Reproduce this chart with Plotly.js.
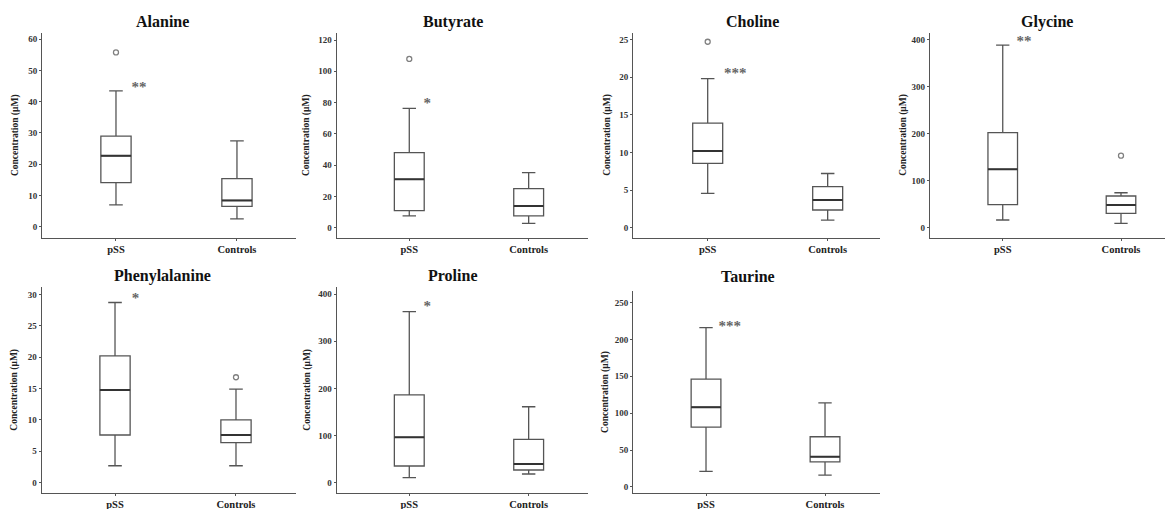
<!DOCTYPE html>
<html>
<head>
<meta charset="utf-8">
<script src="https://cdn.plot.ly/plotly-3.0.1.min.js"></script>
<style>html,body{margin:0;padding:0;background:#fff;}#chart{width:1165px;height:509px;}</style>
</head>
<body>
<div id="chart"></div>
<script>
// ---------- DATA ----------
const categories = ['pSS', 'Controls'];
const metabolites = ['Alanine', 'Butyrate', 'Choline', 'Glycine', 'Phenylalanine', 'Proline', 'Taurine'];

// pSS box statistics per metabolite
const lowPSS    = [7.0, 7.5, 4.57, 16.4, 2.7, 10.6, 21];
const q1PSS     = [14.1, 10.9, 8.55, 48.9, 7.6, 35.4, 81];
const medianPSS = [22.7, 30.9, 10.2, 124, 14.77, 96.2, 108];
const q3PSS     = [29.0, 48.0, 13.9, 202, 20.2, 186, 146];
const highPSS   = [43.5, 76.3, 19.8, 388, 28.7, 362.5, 216];

// Controls box statistics per metabolite
const lowCtrl    = [2.5, 2.8, 1.02, 9.3, 2.7, 18.4, 16];
const q1Ctrl     = [6.5, 7.5, 2.35, 30.6, 6.4, 26.9, 34];
const medianCtrl = [8.4, 13.9, 3.68, 48.2, 7.6, 39.6, 41];
const q3Ctrl     = [15.4, 25.0, 5.45, 67.3, 10.0, 92, 68];
const highCtrl   = [27.5, 35.2, 7.2, 74.3, 14.9, 161, 114];

// outliers
const outlierMetabolite = ['Alanine', 'Butyrate', 'Choline', 'Glycine', 'Phenylalanine'];
const outlierGroup      = ['pSS', 'pSS', 'pSS', 'Controls', 'Controls'];
const outlierValue      = [55.8, 107.9, 24.7, 153, 16.8];

// significance marks
const significance = ['**', '*', '***', '**', '*', '*', '***'];
const starY        = [44.3, 79.2, 20.4, 394, 29.3, 372.5, 216];
const starX        = [0.19, 0.15, 0.23, 0.18, 0.17, 0.15, 0.2];

const yTitle = 'Concentration (µM)';

// ---------- LAYOUT GEOMETRY (pixels) ----------
const W = 1165, H = 509;
const panels = [
  {x0: 42.3, x1: 296, y0: 32.7, y1: 237.5, xr: [-0.609, 1.488], yr: [-3.46, 62.1], dt: 10, tx: 162, ty: 21.7, ax: 15},
  {x0: 336.7, x1: 588, y0: 33.3, y1: 237.5, xr: [-0.608, 1.497], yr: [-6.27, 124.3], dt: 20, tx: 453, ty: 21.7, ax: 306.7},
  {x0: 633.3, x1: 880, y0: 32.7, y1: 237.5, xr: [-0.62, 1.436], yr: [-1.30, 25.9], dt: 5, tx: 752.7, ty: 21.7, ax: 606.7},
  {x0: 930, x1: 1165, y0: 32.7, y1: 237.5, xr: [-0.615, 1.372], yr: [-20.8, 414.2], dt: 100, tx: 1046.7, ty: 21.7, ax: 902.7},
  {x0: 41.7, x1: 296, y0: 286.7, y1: 492.7, xr: [-0.606, 1.496], yr: [-1.59, 31.22], dt: 5, tx: 162.7, ty: 275.7, ax: 15},
  {x0: 336.7, x1: 588, y0: 287.3, y1: 492.7, xr: [-0.608, 1.497], yr: [-21.2, 414.2], dt: 100, tx: 452.7, ty: 275.7, ax: 306.7},
  {x0: 633.3, x1: 880, y0: 291, y1: 492.8, xr: [-0.611, 1.462], yr: [-8.0, 265.6], dt: 50, tx: 748.3, ty: 276, ax: 606}
];

const serif = 'Liberation Serif, Times New Roman, serif';
const boxWidth = 0.25;
const catPos = categories.map((c, k) => k);
const traces = [];
const layout = {
  width: W, height: H,
  margin: {l: 0, r: 0, t: 0, b: 0},
  paper_bgcolor: '#fff', plot_bgcolor: '#fff',
  showlegend: false,
  annotations: []
};

metabolites.forEach((m, i) => {
  const p = panels[i];
  const sfx = i === 0 ? '' : String(i + 1);
  const xa = 'x' + sfx, ya = 'y' + sfx;

  traces.push({
    type: 'box',
    x: catPos,
    lowerfence: [lowPSS[i], lowCtrl[i]],
    q1: [q1PSS[i], q1Ctrl[i]],
    median: [medianPSS[i], medianCtrl[i]],
    q3: [q3PSS[i], q3Ctrl[i]],
    upperfence: [highPSS[i], highCtrl[i]],
    width: boxWidth,
    whiskerwidth: 0.45,
    boxpoints: false,
    fillcolor: '#ffffff',
    line: {color: '#555555', width: 1.3},
    xaxis: xa, yaxis: ya,
    hoverinfo: 'skip'
  });

  // thicker median lines
  catPos.forEach((k) => {
    const med = k === 0 ? medianPSS[i] : medianCtrl[i];
    traces.push({
      type: 'scatter', mode: 'lines',
      x: [k - boxWidth / 2, k + boxWidth / 2], y: [med, med],
      line: {color: '#333', width: 2},
      xaxis: xa, yaxis: ya, hoverinfo: 'skip'
    });
  });

  // outliers
  const ox = [], oy = [];
  outlierMetabolite.forEach((om, j) => {
    if (om === m) { ox.push(categories.indexOf(outlierGroup[j])); oy.push(outlierValue[j]); }
  });
  if (ox.length) {
    traces.push({
      type: 'scatter', mode: 'markers', x: ox, y: oy,
      marker: {symbol: 'circle-open', size: 5, color: '#808080', line: {width: 1.3, color: '#808080'}},
      xaxis: xa, yaxis: ya, hoverinfo: 'skip'
    });
  }

  // significance
  traces.push({
    type: 'scatter', mode: 'text', x: [starX[i]], y: [starY[i]],
    text: [significance[i]], textposition: 'middle center',
    textfont: {family: serif, size: 15, color: '#666', weight: 'bold'},
    xaxis: xa, yaxis: ya, hoverinfo: 'skip'
  });

  layout['xaxis' + sfx] = {
    domain: [p.x0 / W, p.x1 / W],
    anchor: ya,
    type: 'linear',
    range: p.xr,
    tickvals: catPos, ticktext: categories,
    showline: true, linecolor: '#555', linewidth: 1.2,
    ticks: 'outside', ticklen: 2, tickcolor: '#555', tickwidth: 1,
    showgrid: false, zeroline: false, fixedrange: true,
    ticklabelstandoff: i >= 4 ? -1 : 0,
    tickfont: {family: serif, size: 10.5, color: '#222', weight: 'bold'}
  };
  layout['yaxis' + sfx] = {
    domain: [1 - p.y1 / H, 1 - p.y0 / H],
    anchor: xa,
    range: p.yr,
    dtick: p.dt, tick0: 0,
    showline: true, linecolor: '#555', linewidth: 1.2,
    ticks: 'outside', ticklen: 2, tickcolor: '#555', tickwidth: 1,
    showgrid: false, zeroline: false, fixedrange: true,
    tickfont: {family: serif, size: 9, color: '#333', weight: 'bold'}
  };

  layout.annotations.push({
    text: m, xref: 'paper', yref: 'paper',
    x: p.tx / W, y: 1 - p.ty / H, xanchor: 'center', yanchor: 'middle',
    showarrow: false,
    font: {family: serif, size: 16, color: '#111', weight: 'bold'}
  });
  layout.annotations.push({
    text: yTitle, xref: 'paper', yref: 'paper', textangle: -90,
    x: p.ax / W, y: 1 - ((p.y0 + p.y1) / 2) / H, xanchor: 'center', yanchor: 'middle',
    showarrow: false,
    font: {family: serif, size: 9.5, color: '#222', weight: 'bold'}
  });
});

Plotly.newPlot('chart', traces, layout, {displayModeBar: false, staticPlot: true});
</script>
</body>
</html>
